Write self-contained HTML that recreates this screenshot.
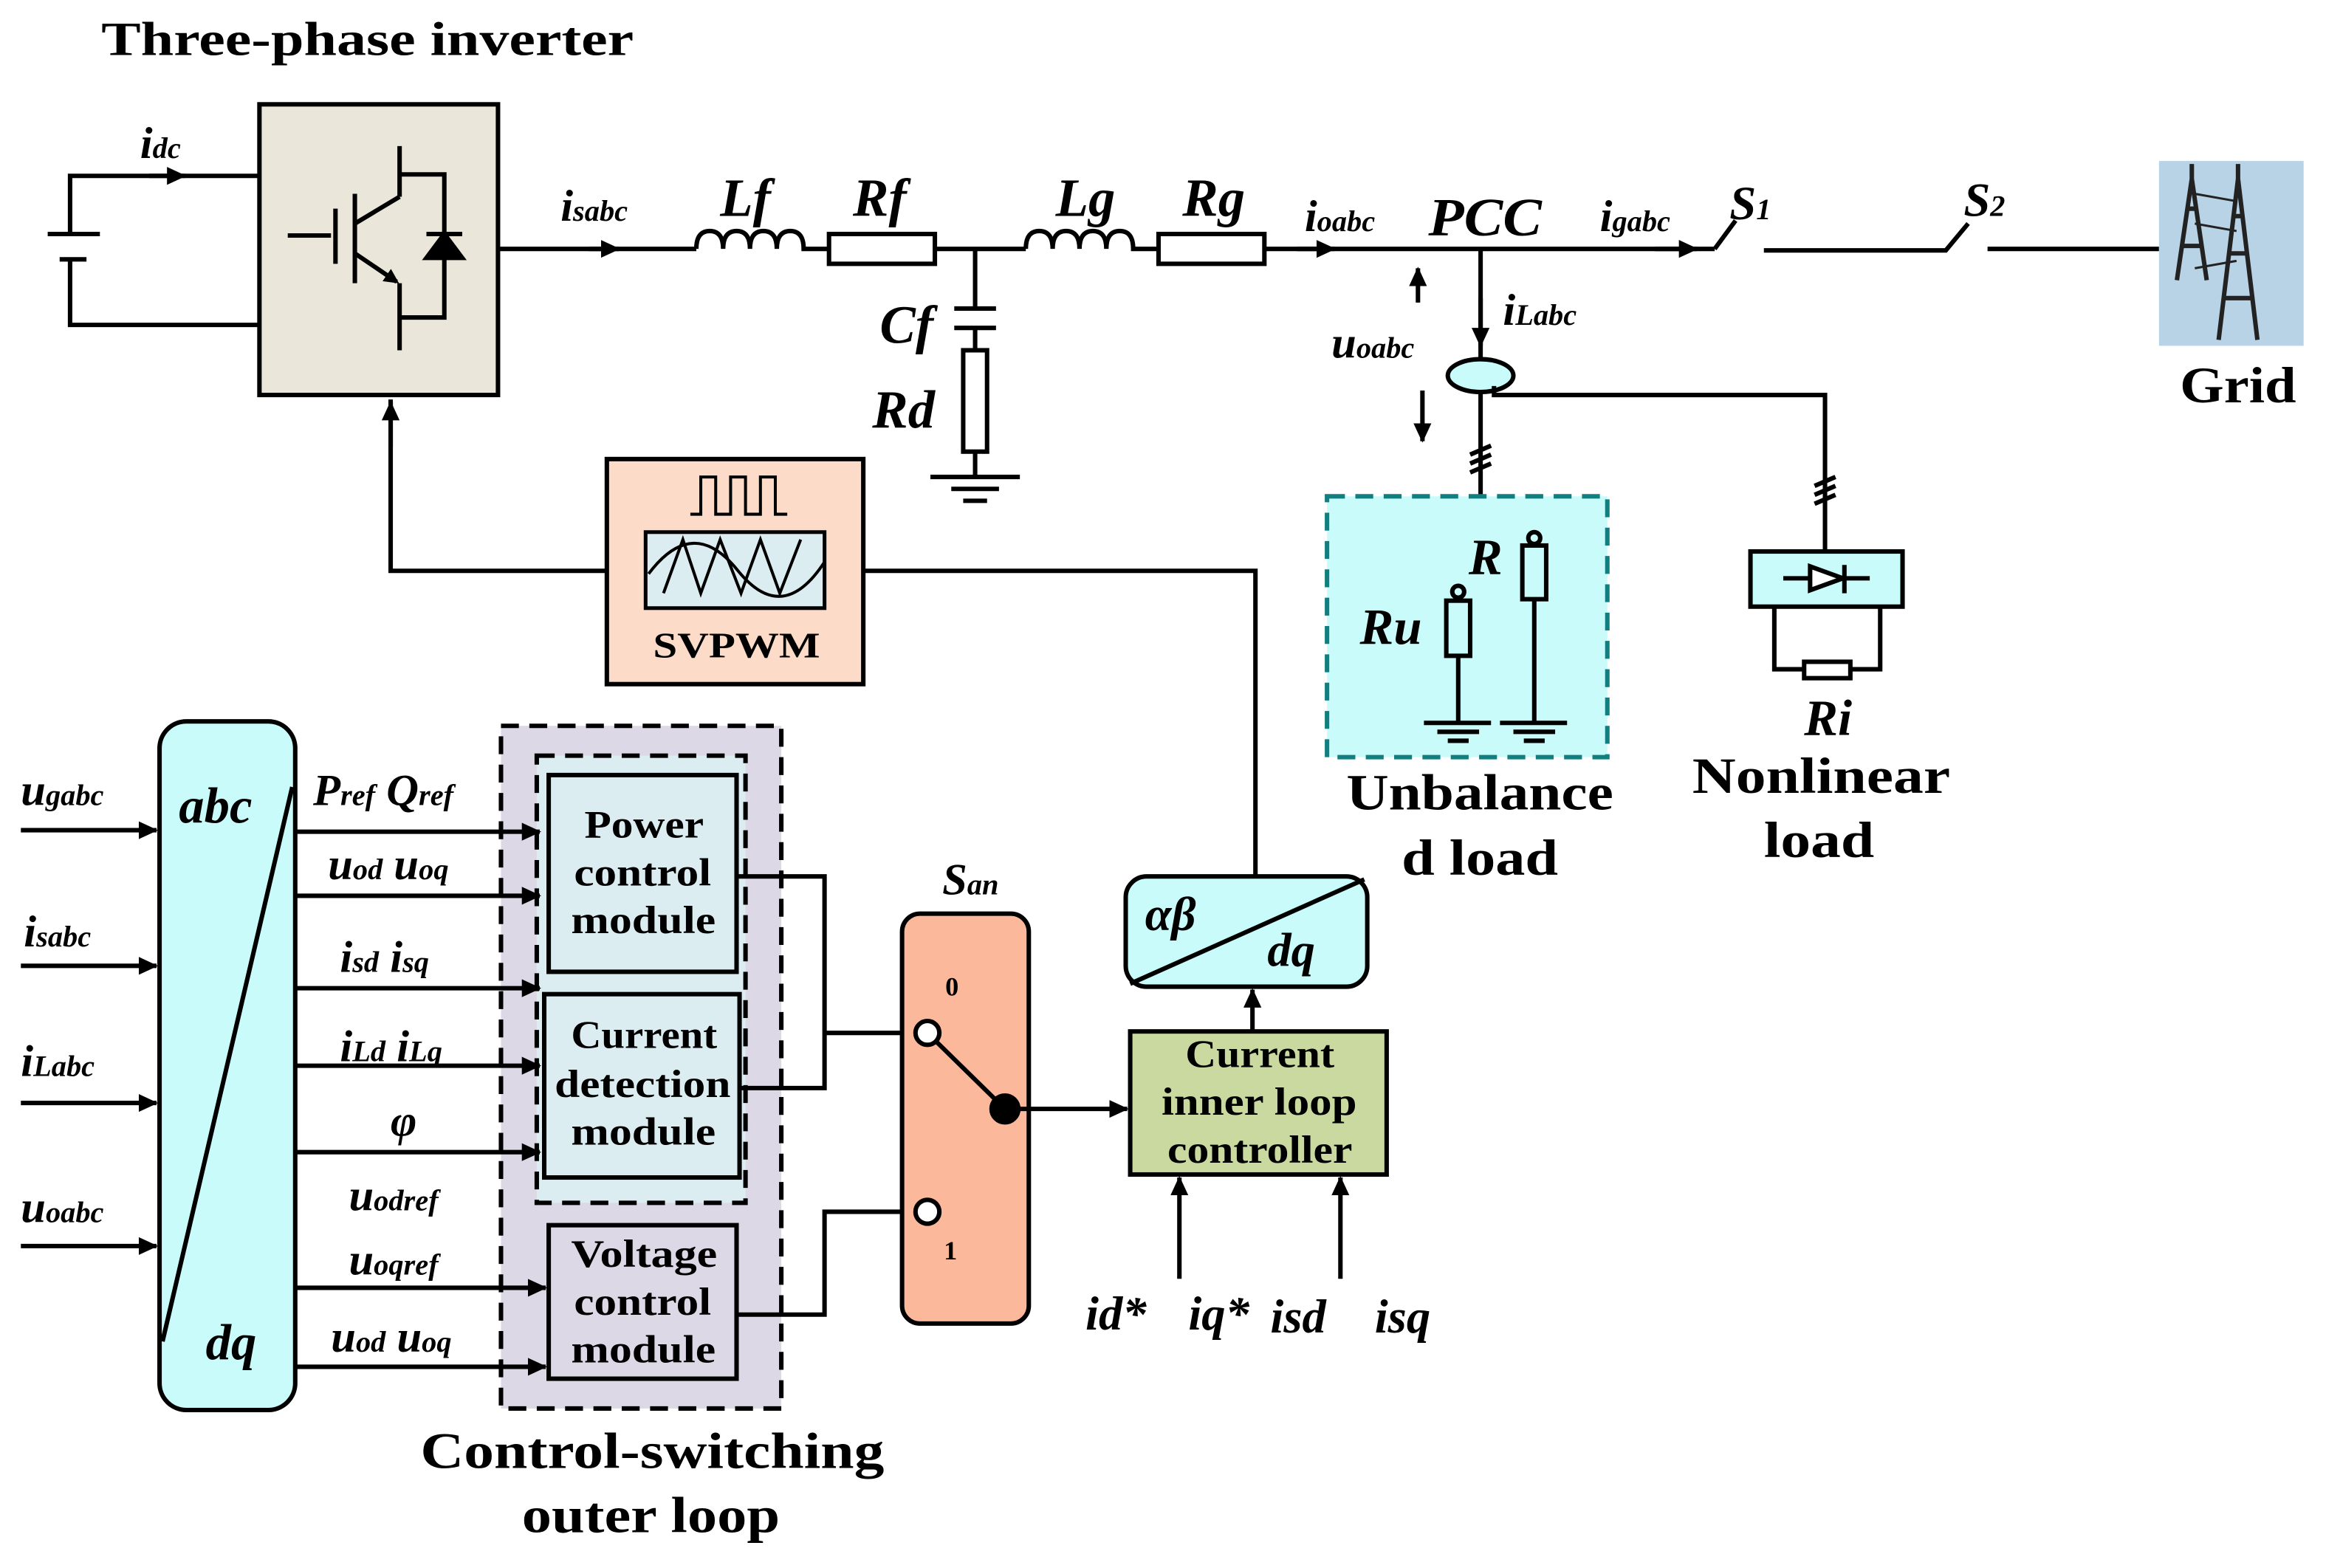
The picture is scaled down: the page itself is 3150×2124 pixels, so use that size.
<!DOCTYPE html>
<html><head><meta charset="utf-8"><style>
html,body{margin:0;padding:0;background:#fff}
svg{display:block}
text{font-family:"Liberation Serif",serif;fill:#000}
.b{font-weight:bold}
.i{font-style:italic;font-weight:bold}
</style></head><body>
<svg width="3150" height="2124" viewBox="0 0 1560 1052" preserveAspectRatio="none" xmlns="http://www.w3.org/2000/svg">
<defs>
<marker id="ar" markerWidth="10" markerHeight="10" refX="8" refY="5" orient="auto" markerUnits="userSpaceOnUse"><path d="M0,0 L10,5 L0,10 Z" fill="#000"/></marker>
<marker id="ar2" markerWidth="14" markerHeight="14" refX="12" refY="7" orient="auto" markerUnits="userSpaceOnUse"><path d="M0,1 L13,7 L0,13 Z" fill="#000"/></marker>
</defs>
<g stroke="#000" stroke-width="3" fill="none">
<path d="M174,118 H47 V157 M47,174 V218 H174"/>
<path d="M32,157 H67 M40,174 H58"/>
<path d="M100,118 L124,118" marker-end="url(#ar2)"/>
<rect x="174" y="70" width="160" height="195" fill="#ebe6da"/>
<path d="M193,158 H222 M225,140 V177 M238,130 V190 M238,150 L268,132 M268,98 V132 M268,117 H298 V213 H268 M268,190 V235"/>
<path d="M238,170 L266,189" marker-end="url(#ar)"/>
<path d="M286,157 H310"/>
<path d="M286,173 L310,173 L298,157 Z" fill="#000"/>
<path d="M334,167 H467"/>
<path d="M395,167 L415,167" marker-end="url(#ar2)"/>
<path d="M467,167 q0,-12 9,-12 q9,0 9,12 q0,-12 9,-12 q9,0 9,12 q0,-12 9,-12 q9,0 9,12 q0,-12 9,-12 q9,0 9,12 H556"/>
<rect x="556" y="157" width="71" height="20" fill="#fff"/>
<path d="M627,167 H688"/>
<path d="M688,167 q0,-12 9,-12 q9,0 9,12 q0,-12 9,-12 q9,0 9,12 q0,-12 9,-12 q9,0 9,12 q0,-12 9,-12 q9,0 9,12 H777"/>
<rect x="777" y="157" width="71" height="20" fill="#fff"/>
<path d="M848,167 H1150"/>
<path d="M870,167 L895,167" marker-end="url(#ar2)"/>
<path d="M1110,167 L1138,167" marker-end="url(#ar2)"/>
<path d="M1150,167 L1164,148"/>
<path d="M1183,168 H1305 L1320,150 M1333,167 H1448"/>
<path d="M654,167 V207 M640,207 H668 M640,220 H668 M654,220 V235"/>
<rect x="646" y="235" width="16" height="68" fill="#fff"/>
<path d="M654,303 V320 M624,320 H684 M638,328 H670 M646,336 H662"/>
<path d="M951,203 L951,180" marker-end="url(#ar2)"/>
<path d="M954,262 L954,296" marker-end="url(#ar2)"/>
<path d="M993,167 V240"/>
<path d="M993,200 L993,232" marker-end="url(#ar2)"/>
<ellipse cx="993" cy="252" rx="22" ry="11" fill="#c9fbfb"/>
<path d="M993,263 V334 M986,305 L1000,299 M986,311 L1000,305 M986,317 L1000,311"/>
<path d="M1002,259 V265 H1224 V370 M1217,326 L1231,320 M1217,332 L1231,326 M1217,338 L1231,332"/>
<rect x="890" y="333" width="188" height="175" fill="#c9fbfb" stroke="#117f7f" stroke-dasharray="12,7"/>
<circle cx="978" cy="397" r="4"/>
<rect x="970" y="403" width="16" height="37" fill="#c9fbfb"/>
<path d="M978,440 V485 M955,485 H1000 M964,491 H992 M971,497 H985"/>
<circle cx="1029" cy="361" r="4"/>
<rect x="1021" y="366" width="16" height="36" fill="#c9fbfb"/>
<path d="M1029,402 V485 M1006,485 H1051 M1015,491 H1043 M1022,497 H1036"/>
<rect x="1174" y="370" width="102" height="37" fill="#c9fbfb"/>
<path d="M1196,388 H1254 M1237,379 V398"/>
<path d="M1214,380 L1214,396 L1236,388 Z" fill="#fff"/>
<path d="M1190,407 V449 H1210 M1241,449 H1261 V407"/>
<rect x="1210" y="444" width="31" height="11" fill="#fff"/>
<rect x="407" y="308" width="172" height="151" fill="#fcdcc8"/>
<path d="M463,345 H470 V320 H480 V345 H490 V320 H500 V345 H510 V320 H520 V345 H528" stroke-width="2"/>
<rect x="433" y="357" width="120" height="51" fill="#dcedf2" stroke-width="2.5"/>
<path d="M445,398 L458,362 L470,398 L483,362 L497,398 L510,362 L523,398 L537,362" stroke-width="2"/>
<path d="M435,385 Q465,345 495,383 Q525,420 553,377" stroke-width="2"/>
<path d="M407,383 H262 V268" />
<path d="M262,300 L262,270" marker-end="url(#ar2)"/>
<path d="M579,383 H842 V588"/>
<rect x="107" y="484" width="91" height="462" rx="18" fill="#c9fbfb"/>
<path d="M109,900 L196,528"/>
<path d="M14,557 L105,557" marker-end="url(#ar2)"/>
<path d="M14,648 L105,648" marker-end="url(#ar2)"/>
<path d="M14,740 L105,740" marker-end="url(#ar2)"/>
<path d="M14,836 L105,836" marker-end="url(#ar2)"/>
<rect x="336" y="487" width="188" height="458" fill="#dcd8e6" stroke-dasharray="12,7"/>
<rect x="360" y="507" width="140" height="300" fill="#dcedf2" stroke-dasharray="12,7"/>
<rect x="368" y="520" width="126" height="132" fill="#dcedf2"/>
<rect x="365" y="667" width="131" height="123" fill="#dcedf2"/>
<rect x="368" y="822" width="126" height="103" fill="#dcd8e6"/>
<path d="M198,558 L362,558" marker-end="url(#ar2)"/>
<path d="M198,601 L362,601" marker-end="url(#ar2)"/>
<path d="M198,663 L362,663" marker-end="url(#ar2)"/>
<path d="M198,715 L362,715" marker-end="url(#ar2)"/>
<path d="M198,773 L362,773" marker-end="url(#ar2)"/>
<path d="M198,864 L366,864" marker-end="url(#ar2)"/>
<path d="M198,917 L366,917" marker-end="url(#ar2)"/>
<path d="M494,588 H553 V730 H496 M553,693 H614 M494,882 H553 V813 H614"/>
<rect x="605" y="613" width="85" height="275" rx="12" fill="#fbb89a"/>
<path d="M622,693 L674,744"/>
<circle cx="622" cy="693" r="8" fill="#fff"/>
<circle cx="622" cy="813" r="8" fill="#fff"/>
<circle cx="674" cy="744" r="9" fill="#000"/>
<path d="M674,744 L756,744" marker-end="url(#ar2)"/>
<rect x="758" y="692" width="172" height="96" fill="#c9d9a0"/>
<rect x="755" y="588" width="162" height="74" rx="14" fill="#c9fbfb"/>
<path d="M758,660 L915,590"/>
<path d="M840,692 L840,664" marker-end="url(#ar2)"/>
<path d="M791,858 L791,790" marker-end="url(#ar2)"/>
<path d="M899,858 L899,790" marker-end="url(#ar2)"/>
</g>
<rect x="1448" y="108" width="97" height="124" fill="#b9d3e6"/>
<g stroke="#222" stroke-width="3" fill="none">
<path d="M1460,188 L1470,120 L1480,188 M1463,165 H1477 M1466,140 H1474 M1470,110 V120"/>
<path d="M1488,228 L1501,120 L1514,228 M1492,200 H1510 M1495,170 H1507 M1498,145 H1504 M1501,110 V120"/>
<path d="M1472,130 L1500,135 M1472,150 L1500,155 M1472,180 L1500,175" stroke-width="1.5"/>
</g>
<text x="68" y="37" class="b" font-size="32" textLength="357" lengthAdjust="spacingAndGlyphs">Three-phase inverter</text>
<text x="94" y="106" class="i" font-size="30">i<tspan font-size="20">dc</tspan></text>
<text x="376" y="148" class="i" font-size="30">i<tspan font-size="20">sabc</tspan></text>
<text x="483" y="145" class="i" font-size="36">Lf</text>
<text x="572" y="145" class="i" font-size="36">Rf</text>
<text x="708" y="145" class="i" font-size="36">Lg</text>
<text x="793" y="145" class="i" font-size="36">Rg</text>
<text x="590" y="230" class="i" font-size="36">Cf</text>
<text x="585" y="287" class="i" font-size="36">Rd</text>
<text x="875" y="155" class="i" font-size="30">i<tspan font-size="20">oabc</tspan></text>
<text x="958" y="158" class="i" font-size="36" font-weight="normal" textLength="76" lengthAdjust="spacingAndGlyphs">PCC</text>
<text x="1073" y="155" class="i" font-size="30">i<tspan font-size="20">gabc</tspan></text>
<text x="1160" y="147" class="i" font-size="32">S<tspan font-size="20">1</tspan></text>
<text x="1317" y="145" class="i" font-size="32">S<tspan font-size="20">2</tspan></text>
<text x="1008" y="218" class="i" font-size="30">i<tspan font-size="20">Labc</tspan></text>
<text x="893" y="240" class="i" font-size="30">u<tspan font-size="20">oabc</tspan></text>
<text x="1462" y="270" class="b" font-size="34" textLength="78" lengthAdjust="spacingAndGlyphs">Grid</text>
<text x="985" y="385" class="i" font-size="34">R</text>
<text x="912" y="432" class="i" font-size="34">Ru</text>
<text x="1210" y="493" class="i" font-size="34">Ri</text>
<text x="903" y="543" class="b" font-size="34" textLength="179" lengthAdjust="spacingAndGlyphs">Unbalance</text>
<text x="940" y="587" class="b" font-size="34" textLength="105" lengthAdjust="spacingAndGlyphs">d load</text>
<text x="1135" y="532" class="b" font-size="34" textLength="173" lengthAdjust="spacingAndGlyphs">Nonlinear</text>
<text x="1183" y="575" class="b" font-size="34" textLength="74" lengthAdjust="spacingAndGlyphs">load</text>
<text x="438" y="441" class="b" font-size="24" textLength="112" lengthAdjust="spacingAndGlyphs">SVPWM</text>
<text x="120" y="552" class="i" font-size="34">abc</text>
<text x="138" y="912" class="i" font-size="34">dq</text>
<text x="14" y="540" class="i" font-size="30">u<tspan font-size="20">gabc</tspan></text>
<text x="16" y="635" class="i" font-size="30">i<tspan font-size="20">sabc</tspan></text>
<text x="14" y="722" class="i" font-size="30">i<tspan font-size="20">Labc</tspan></text>
<text x="14" y="820" class="i" font-size="30">u<tspan font-size="20">oabc</tspan></text>
<text x="210" y="540" class="i" font-size="30">P<tspan font-size="20">ref</tspan> Q<tspan font-size="20">ref</tspan></text>
<text x="220" y="590" class="i" font-size="30">u<tspan font-size="20">od</tspan> u<tspan font-size="20">oq</tspan></text>
<text x="228" y="652" class="i" font-size="30">i<tspan font-size="20">sd</tspan>  i<tspan font-size="20">sq</tspan></text>
<text x="228" y="712" class="i" font-size="30">i<tspan font-size="20">Ld</tspan>  i<tspan font-size="20">Lq</tspan></text>
<text x="262" y="762" class="i" font-size="30">φ</text>
<text x="234" y="812" class="i" font-size="30">u<tspan font-size="20">odref</tspan></text>
<text x="234" y="855" class="i" font-size="30">u<tspan font-size="20">oqref</tspan></text>
<text x="222" y="907" class="i" font-size="30">u<tspan font-size="20">od</tspan> u<tspan font-size="20">oq</tspan></text>
<g font-size="26">
<text x="392" y="562" class="b" textLength="80" lengthAdjust="spacingAndGlyphs">Power</text>
<text x="385" y="594" class="b" textLength="92" lengthAdjust="spacingAndGlyphs">control</text>
<text x="383" y="626" class="b" textLength="97" lengthAdjust="spacingAndGlyphs">module</text>
<text x="383" y="703" class="b" textLength="98" lengthAdjust="spacingAndGlyphs">Current</text>
<text x="372" y="736" class="b" textLength="118" lengthAdjust="spacingAndGlyphs">detection</text>
<text x="383" y="768" class="b" textLength="97" lengthAdjust="spacingAndGlyphs">module</text>
<text x="383" y="850" class="b" textLength="98" lengthAdjust="spacingAndGlyphs">Voltage</text>
<text x="385" y="882" class="b" textLength="92" lengthAdjust="spacingAndGlyphs">control</text>
<text x="383" y="914" class="b" textLength="97" lengthAdjust="spacingAndGlyphs">module</text>
<text x="795" y="716" class="b" textLength="100" lengthAdjust="spacingAndGlyphs">Current</text>
<text x="779" y="748" class="b" textLength="131" lengthAdjust="spacingAndGlyphs">inner loop</text>
<text x="783" y="780" class="b" textLength="124" lengthAdjust="spacingAndGlyphs">controller</text>
</g>
<text x="632" y="600" class="i" font-size="30">S<tspan font-size="20">an</tspan></text>
<text x="634" y="668" class="b" font-size="18">0</text>
<text x="633" y="845" class="b" font-size="18">1</text>
<text x="768" y="624" class="i" font-size="32">αβ</text>
<text x="850" y="648" class="i" font-size="32">dq</text>
<text x="728" y="892" class="i" font-size="32" font-weight="normal">id*</text>
<text x="797" y="892" class="i" font-size="32" font-weight="normal">iq*</text>
<text x="852" y="894" class="i" font-size="32" font-weight="normal">isd</text>
<text x="922" y="894" class="i" font-size="32" font-weight="normal">isq</text>
<text x="282" y="985" class="b" font-size="34" textLength="311" lengthAdjust="spacingAndGlyphs">Control-switching</text>
<text x="350" y="1028" class="b" font-size="34" textLength="173" lengthAdjust="spacingAndGlyphs">outer loop</text>
</svg>
</body></html>
